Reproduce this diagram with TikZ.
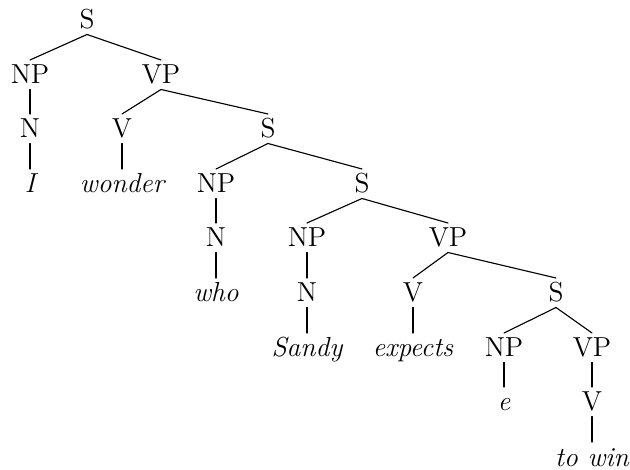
\documentclass[tikz,border=0pt]{standalone}
\usepackage{tikz}

\begin{document}
\begin{tikzpicture}[line cap=round,line join=round,x=0.4pt,y=-0.4pt,
  cat/.style={anchor=base,inner sep=2pt,text height=7.4pt,text depth=0pt,
    font=\fontsize{11}{13}\selectfont},
  word/.style={cat,font=\fontsize{11}{13}\selectfont\itshape},
  branch/.style={line width=0.45pt}]
\useasboundingbox (0,0) rectangle (630,470);
% categories and words, row by row
\node[cat] (s) at (87,29) {S};
\node[cat] (np) at (30,84) {NP};
\node[cat] (vp) at (161,84) {VP};
\node[cat] (n) at (30,138) {N};
\node[cat] (v) at (122,138) {V};
\node[cat] (s2) at (268,138) {S};
\node[word] (i) at (30,193) {I};
\node[word] (wonder) at (122,193) {wonder};
\node[cat] (np2) at (216,193) {NP};
\node[cat] (s3) at (362,193) {S};
\node[cat] (n2) at (216,247) {N};
\node[cat] (np3) at (307,247) {NP};
\node[cat] (vp3) at (448,247) {VP};
\node[word] (who) at (216,302) {who};
\node[cat] (n3) at (307,302) {N};
\node[cat] (v3) at (413,302) {V};
\node[cat] (s4) at (556,302) {S};
\node[word] (sandy) at (307,357) {Sandy};
\node[word] (expects) at (413,357) {expects};
\node[cat] (np4) at (504,357) {NP};
\node[cat] (vp4) at (592,357) {VP};
\node[word] (e) at (504,411) {e};
\node[cat] (v4) at (592,411) {V};
\node[word] (towin) at (592,466) {to win};
% branches
\draw [branch] (s.south) -- (np.north);
\draw [branch] (s.south) -- (vp.north);
\draw [branch] (np.south) -- (n.north);
\draw [branch] (n.south) -- (i.north);
\draw [branch] (vp.south) -- (v.north);
\draw [branch] (vp.south) -- (s2.north);
\draw [branch] (v.south) -- (wonder.north);
\draw [branch] (s2.south) -- (np2.north);
\draw [branch] (s2.south) -- (s3.north);
\draw [branch] (np2.south) -- (n2.north);
\draw [branch] (n2.south) -- (who.north);
\draw [branch] (s3.south) -- (np3.north);
\draw [branch] (s3.south) -- (vp3.north);
\draw [branch] (np3.south) -- (n3.north);
\draw [branch] (n3.south) -- (sandy.north);
\draw [branch] (vp3.south) -- (v3.north);
\draw [branch] (vp3.south) -- (s4.north);
\draw [branch] (v3.south) -- (expects.north);
\draw [branch] (s4.south) -- (np4.north);
\draw [branch] (s4.south) -- (vp4.north);
\draw [branch] (np4.south) -- (e.north);
\draw [branch] (vp4.south) -- (v4.north);
\draw [branch] (v4.south) -- (towin.north);
\end{tikzpicture}
\end{document}
